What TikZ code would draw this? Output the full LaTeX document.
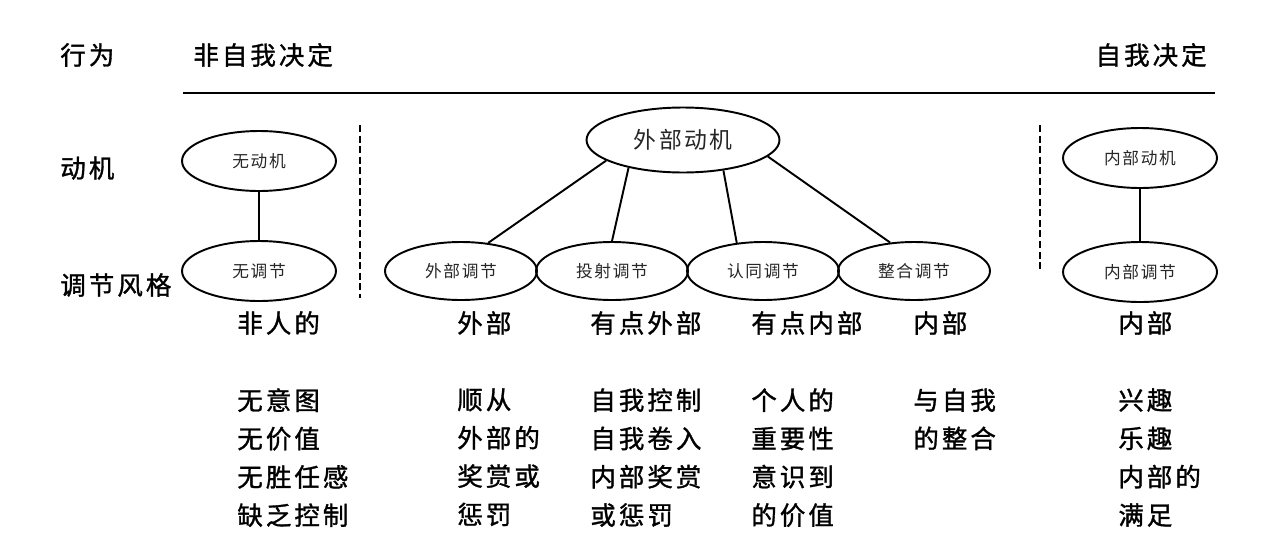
\documentclass[tikz,border=0pt]{standalone}
\usepackage{fontspec}
\setmainfont{Noto Sans CJK SC}[LetterSpace=12, FakeBold=1.2]
\newfontfamily\ovalfont{Noto Sans CJK SC}[LetterSpace=10]
\usetikzlibrary{shapes.geometric,positioning}

\begin{document}
\begin{tikzpicture}[
  x=0.02cm, y=-0.02cm,
  oval/.style={draw, ellipse, line width=1.1pt, inner sep=0pt,
               minimum width=3.08cm, minimum height=1.2cm,
               font=\ovalfont\fontsize{9.5}{11}\selectfont, text=black!85},
  bigoval/.style={oval, minimum width=3.86cm, minimum height=1.3cm,
                  font=\ovalfont\fontsize{13}{15}\selectfont},
  lbl/.style={font=\fontsize{14.5}{16}\selectfont, anchor=west, inner sep=0pt},
  lst/.style={lbl, align=left, anchor=north west,
              font=\fontsize{14.5}{21.8pt}\selectfont},
  link/.style={line width=1.1pt},
  divider/.style={line width=1.6pt, dash pattern=on 4pt off 2pt},
]
  \useasboundingbox (0,0) rectangle (1280,558);

  % Row titles
  \node[lbl] (rowact) at (60,55) {行为};
  \node[lbl] (rowmot) at (60,168) {动机};
  \node[lbl] (rowreg) at (60,285) {调节风格};

  % Behaviour axis
  \node[lbl] (nonself) at (193,55) {非自我决定};
  \node[lbl, anchor=east] (self) at (1207,55) {自我决定};
  \coordinate (axisL) at (183,93);
  \coordinate (axisR) at (1215,93);
  \draw[line width=1.4pt] (axisL) -- (axisR);

  % Amotivation
  \node[oval] (amot) at (259,161) {无动机};
  \node[oval] (noreg) at (259,271) {无调节};
  \draw[link] (amot) -- (noreg);

  % Extrinsic motivation
  \node[bigoval] (ext) at (683,140) {外部动机};
  \node[oval, minimum width=3.04cm, minimum height=1.16cm] (r1) at (461,271) {外部调节};
  \node[oval, minimum width=3.04cm, minimum height=1.16cm] (r2) at (612,271) {投射调节};
  \node[oval, minimum width=3.04cm, minimum height=1.16cm] (r3) at (763,271) {认同调节};
  \node[oval, minimum width=3.04cm, minimum height=1.16cm] (r4) at (914,271) {整合调节};
  \draw[link] (ext.195) -- (r1.46);
  \draw[link] (ext.207) -- (r2.north);
  \draw[link] (ext.323) -- (r3.133);
  \draw[link] (ext.349) -- (r4.130);

  % Intrinsic motivation
  \node[oval] (imot) at (1140,158) {内部动机};
  \node[oval] (ireg) at (1140,272) {内部调节};
  \draw[link] (imot) -- (ireg);

  % Dividers
  \coordinate (d1a) at (360,125);
  \coordinate (d1b) at (360,298);
  \coordinate (d2a) at (1040,125);
  \coordinate (d2b) at (1040,272);
  \draw[divider] (d1a) -- (d1b);
  \draw[divider] (d2a) -- (d2b);

  % Locus of causality
  \node[lbl] (loc1) at (237,323) {非人的};
  \node[lbl] (loc2) at (457,323) {外部};
  \node[lbl] (loc3) at (590,323) {有点外部};
  \node[lbl] (loc4) at (751,323) {有点内部};
  \node[lbl] (loc5) at (913,323) {内部};
  \node[lbl] (loc6) at (1118,323) {内部};

  % Processes
  \node[lst] (p1) at (237,388) {无意图\\无价值\\无胜任感\\缺乏控制};
  \node[lst] (p2) at (457,388) {顺从\\外部的\\奖赏或\\惩罚};
  \node[lst] (p3) at (590,388) {自我控制\\自我卷入\\内部奖赏\\或惩罚};
  \node[lst] (p4) at (751,388) {个人的\\重要性\\意识到\\的价值};
  \node[lst] (p5) at (913,388) {与自我\\的整合};
  \node[lst] (p6) at (1118,388) {兴趣\\乐趣\\内部的\\满足};
\end{tikzpicture}
\end{document}
